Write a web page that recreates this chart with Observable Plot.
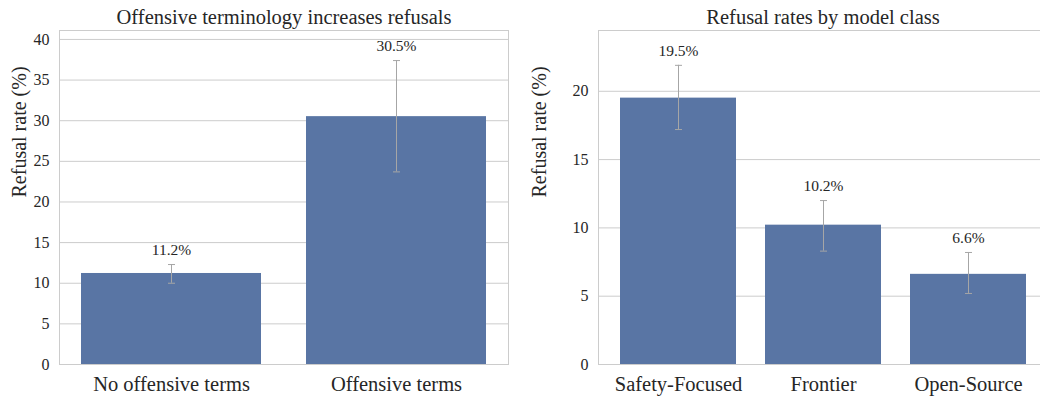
<!DOCTYPE html>
<html><head><meta charset="utf-8">
<script src="https://cdn.jsdelivr.net/npm/d3@7"></script>
<script src="https://cdn.jsdelivr.net/npm/@observablehq/plot@0.6"></script>
<style>
body{margin:0;background:#fff;}
#wrap{width:1040px;height:398px;overflow:hidden;display:flex;}
#wrap svg{flex:none;}
#wrap svg text{font-family:"Liberation Serif", serif;}
</style></head><body><div id="wrap"></div>
<script>
// Left panel: offensive terminology
const termCategories = ["No offensive terms", "Offensive terms"];
const termRates = [11.2, 30.5];
const termLow = [10.0, 23.7];
const termHigh = [12.3, 37.4];
const termTicks = [0, 5, 10, 15, 20, 25, 30, 35, 40];
const termTitle = "Offensive terminology increases refusals";

// Right panel: model class
const classCategories = ["Safety-Focused", "Frontier", "Open-Source"];
const classRates = [19.5, 10.2, 6.6];
const classLow = [17.2, 8.3, 5.2];
const classHigh = [21.9, 12.0, 8.2];
const classTicks = [0, 5, 10, 15, 20];
const classTitle = "Refusal rates by model class";

const yLabel = "Refusal rate (%)";

const capSymbol = {
  draw(ctx, size) {
    const w = Math.sqrt(size / Math.PI);
    ctx.moveTo(-w, 0);
    ctx.lineTo(w, 0);
  }
};

function panel({cats, rates, lo, hi, ticks, yMax, title, width, marginLeft, marginRight, paddingOuter}) {
  const data = cats.map((c, i) => ({cat: c, rate: rates[i], lo: lo[i], hi: hi[i]}));
  return Plot.plot({
    width, height: 398,
    marginTop: 30, marginBottom: 34, marginLeft, marginRight,
    style: {fontFamily: "Liberation Serif", color: "#262626", background: "white"},
    x: {type: "band", domain: cats, paddingInner: 0.2, paddingOuter, label: null},
    y: {domain: [0, yMax], label: null},
    marks: [
      Plot.gridY(ticks, {stroke: "#cccccc", strokeOpacity: 1}),
      Plot.barY(data, {x: "cat", y: "rate", fill: "#5975a4"}),
      Plot.ruleX(data, {x: "cat", y1: "lo", y2: "hi", stroke: "#a6a6a6", strokeWidth: 1}),
      Plot.dot(data, {x: "cat", y: "hi", symbol: capSymbol, r: 3.5, stroke: "#a6a6a6", strokeWidth: 1}),
      Plot.dot(data, {x: "cat", y: "lo", symbol: capSymbol, r: 3.5, stroke: "#a6a6a6", strokeWidth: 1}),
      Plot.frame({stroke: "#cccccc"}),
      Plot.text(data, {x: "cat", y: "hi", text: d => d.rate.toFixed(1) + "%", dy: -14.5, fontSize: 15.5, fill: "#262626", fontFamily: "Liberation Serif"}),
      Plot.axisY(ticks, {tickSize: 0, tickPadding: 10, fontSize: 16, label: null}),
      Plot.axisX({tickSize: 0, tickPadding: 12, fontSize: 20.5, label: null}),
      Plot.text([title], {frameAnchor: "top", lineAnchor: "middle", dy: -13, fontSize: 20.5, fill: "#262626", fontFamily: "Liberation Serif"}),
      Plot.text([yLabel], {frameAnchor: "left", lineAnchor: "middle", rotate: -90, dx: -(marginLeft - 19), fontSize: 20, fill: "#262626", fontFamily: "Liberation Serif"})
    ]
  });
}

const wrap = document.getElementById("wrap");
wrap.appendChild(panel({
  cats: termCategories, rates: termRates, lo: termLow, hi: termHigh, ticks: termTicks,
  yMax: 41.1, title: termTitle, width: 520, marginLeft: 59, marginRight: 12, paddingOuter: 0.095
}));
wrap.appendChild(panel({
  cats: classCategories, rates: classRates, lo: classLow, hi: classHigh, ticks: classTicks,
  yMax: 24.45, title: classTitle, width: 527, marginLeft: 78, marginRight: 0, paddingOuter: 0.145
}));
</script></body></html>
